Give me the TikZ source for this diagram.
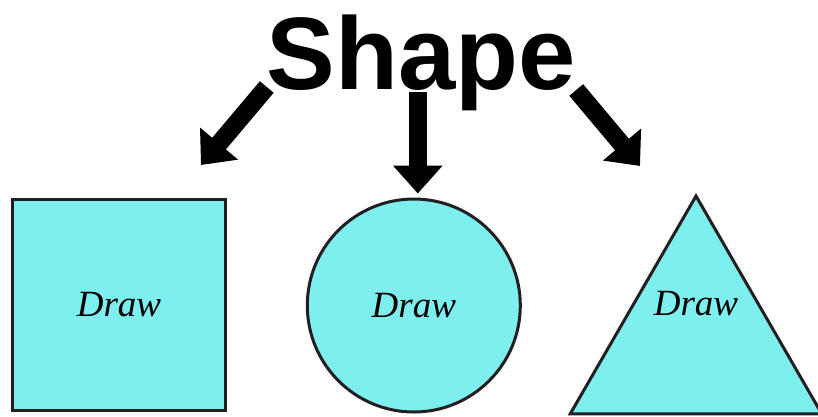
\documentclass[tikz,border=0pt]{standalone}
\usepackage{fontspec}
\setmainfont{Liberation Serif}
\setsansfont{Liberation Sans}
\usetikzlibrary{arrows.meta,positioning,shapes.geometric,calc}
\definecolor{shapefill}{RGB}{126,239,239}
\definecolor{edgeink}{RGB}{35,31,32}

\begin{document}
\begin{tikzpicture}[x=1pt, y=-1pt,
  shapebox/.style={draw=edgeink, line width=3pt, fill=shapefill, inner sep=0pt},
  drawlabel/.style={font=\fontsize{37}{40}\selectfont\itshape, inner sep=0pt},
  bigarr/.style={-{Triangle[length=28pt,width=48pt]}, line width=18pt}
]
\useasboundingbox (0,0) rectangle (818,416);

\node[font=\sffamily\bfseries\fontsize{103}{110}\selectfont, inner sep=0pt, anchor=base] (title) at (421.5,89) {Shape};

\node[shapebox, drawlabel, minimum width=213pt, minimum height=211pt] (sq) at (119,305) {Draw};
\node[shapebox, drawlabel, circle, minimum size=213pt] (circ) at (413.8,305.5) {Draw};
\node[shapebox, regular polygon, regular polygon sides=3, minimum size=290.6pt] (tri) at (696,341.3) {};
\node[drawlabel] (trilabel) at (696,304) {Draw};

\draw[bigarr] ($(title.base west)+(0,-2)$) -- ($(sq.north east)+(-26,-33)$);
\draw[bigarr] ($(title.base)+(-3.7,3)$) -- ($(circ.north)+(4,-4)$);
\draw[bigarr] ($(title.base east)+(0,1)$) -- ($(tri.corner 1)+(-56,-27)$);
\end{tikzpicture}
\end{document}
